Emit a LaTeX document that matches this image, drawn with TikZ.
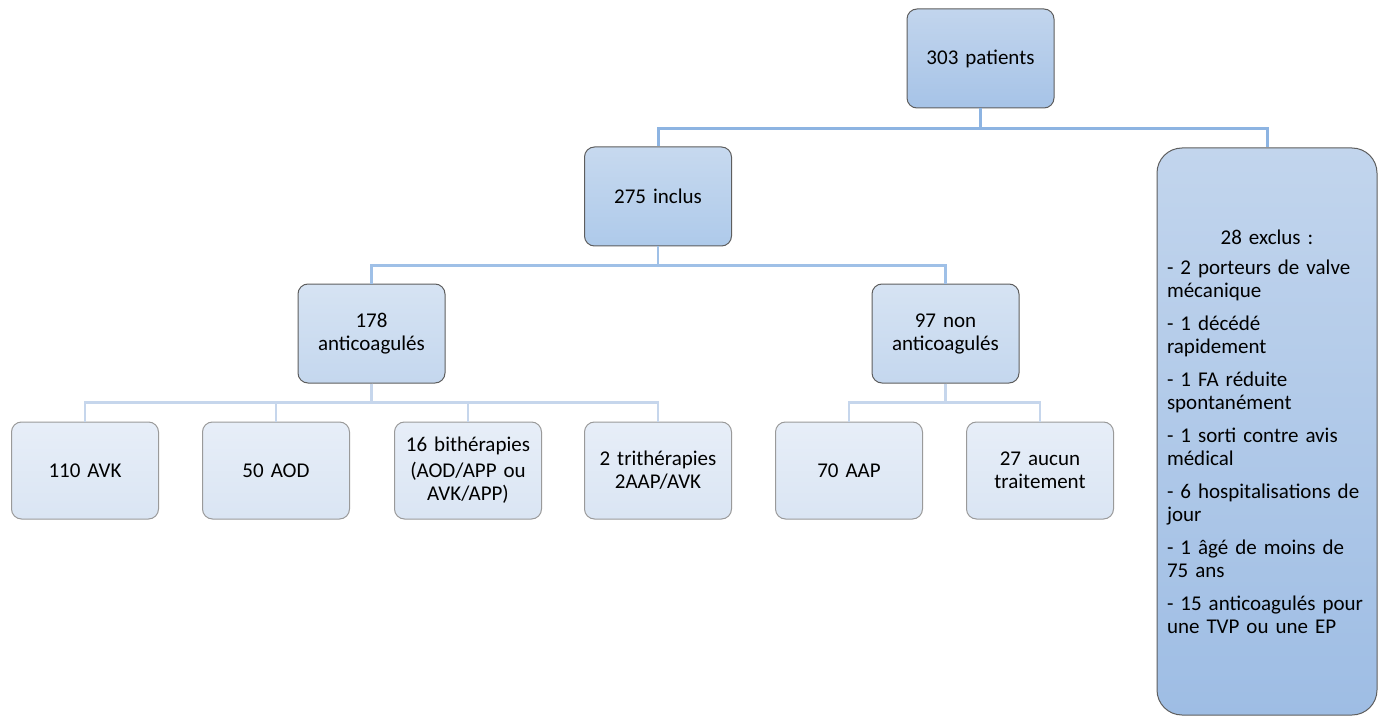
\documentclass[tikz,border=0pt]{standalone}
\usepackage{fontspec}
\setmainfont{Carlito}[WordSpace=0.75]
\usepackage{tikz}
\usepackage{xcolor}

\definecolor{boxdark}{HTML}{5E5E5E}
\definecolor{boxlight}{HTML}{9A9A9A}
\definecolor{oneA}{HTML}{C2D5ED}
\definecolor{oneB}{HTML}{A6C3E7}
\definecolor{twoA}{HTML}{C7D9EF}
\definecolor{twoB}{HTML}{AECAEA}
\definecolor{threeA}{HTML}{D6E3F3}
\definecolor{threeB}{HTML}{C4D7EE}
\definecolor{leafA}{HTML}{E7EEF8}
\definecolor{leafB}{HTML}{DAE5F3}
\definecolor{exclB}{HTML}{9EBDE4}
\definecolor{linkA}{HTML}{8DB4E2}
\definecolor{linkB}{HTML}{9FC0E7}
\definecolor{linkC}{HTML}{C6D6EC}

\newcommand\chartfont{\fontsize{10.5pt}{11.5pt}\selectfont}

\begin{document}
\begin{tikzpicture}[x=0.5pt, y=-0.5pt,
  every node/.style={font=\chartfont, align=center, inner sep=2pt},
  rootbox/.style={draw=boxdark, line width=0.5pt, rounded corners=5pt,
    top color=oneA, bottom color=oneB, minimum width=73.5pt,
    minimum height=49.5pt, text width=68pt},
  splitbox/.style={rootbox, top color=twoA, bottom color=twoB},
  groupbox/.style={rootbox, top color=threeA, bottom color=threeB},
  leafbox/.style={rootbox, draw=boxlight, top color=leafA, bottom color=leafB,
    minimum height=48.5pt},
  exclbox/.style={draw=boxdark, line width=0.5pt, rounded corners=12.5pt,
    top color=oneA, bottom color=exclB, minimum width=110pt,
    minimum height=283.5pt, text width=100pt, inner xsep=5pt, align=left},
  linkone/.style={draw=linkA, line width=1.5pt},
  linktwo/.style={draw=linkB, line width=1.3pt},
  linkthree/.style={draw=linkC, line width=1.3pt}
]
  \useasboundingbox (0,0) rectangle (1383,717);

  \node[rootbox] (patients) at (980.5,58.5) {303 patients};
  \node[splitbox] (inclus) at (658,196.5) {275 inclus};
  \node[exclbox] (exclus) at (1267,431.5) {\makebox[\hsize]{28 exclus :}\\[3.5pt]
    - 2 porteurs de valve\\ mécanique\\[5pt]
    - 1 décédé\\ rapidement\\[5pt]
    - 1 FA réduite\\ spontanément\\[5pt]
    - 1 sorti contre avis\\ médical\\[5pt]
    - 6 hospitalisations de\\ jour\\[5pt]
    - 1 âgé de moins de\\ 75 ans\\[5pt]
    - 15 anticoagulés pour\\ une TVP ou une EP};
  \node[groupbox] (anticoag) at (371.5,333.5) {178\\anticoagulés};
  \node[groupbox] (nonanticoag) at (945.5,333.5) {97 non\\anticoagulés};
  \node[leafbox] (avk) at (85,470.5) {110 AVK};
  \node[leafbox] (aod) at (276,470.5) {50 AOD};
  \node[leafbox] (bith) at (468,470.5) {16 bithérapies\\[1.5pt](AOD/APP ou\\AVK/APP)};
  \node[leafbox] (trith) at (658,470.5) {2 trithérapies\\2AAP/AVK};
  \node[leafbox] (aap) at (849,470.5) {70 AAP};
  \node[leafbox] (aucun) at (1040,470.5) {27 aucun\\traitement};

  \draw[linkone] (patients.south) -- ++(0,20) -| (inclus.north);
  \draw[linkone] (patients.south) -- ++(0,20) -| (exclus.north);
  \draw[linktwo] (inclus.south) -- ++(0,19) -| (anticoag.north);
  \draw[linktwo] (inclus.south) -- ++(0,19) -| (nonanticoag.north);
  \foreach \kid in {avk,aod,bith,trith}
    \draw[linkthree] (anticoag.south) -- ++(0,19) -| (\kid.north);
  \foreach \kid in {aap,aucun}
    \draw[linkthree] (nonanticoag.south) -- ++(0,19) -| (\kid.north);
\end{tikzpicture}
\end{document}
